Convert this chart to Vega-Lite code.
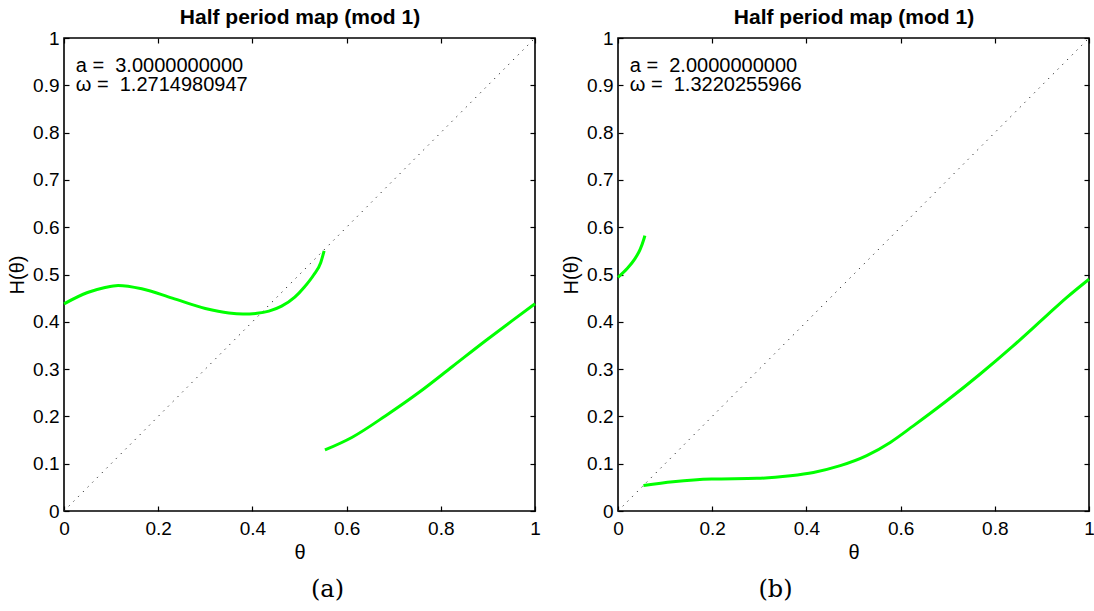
{
  "$schema": "https://vega.github.io/schema/vega-lite/v6.json",
  "background": "white",
  "padding": {"left": 6, "top": 5, "right": 0, "bottom": 0},
  "bounds": "flush",
  "spacing": 83,
  "datasets": {
    "diag": [{"t": 0, "h": 0}, {"t": 1, "h": 1}],
    "a_curves": [
      {"seg": 1, "t": 0.0, "h": 0.438},
      {"seg": 1, "t": 0.05, "h": 0.462},
      {"seg": 1, "t": 0.085, "h": 0.472},
      {"seg": 1, "t": 0.115, "h": 0.477},
      {"seg": 1, "t": 0.165, "h": 0.47},
      {"seg": 1, "t": 0.23, "h": 0.45},
      {"seg": 1, "t": 0.3, "h": 0.428},
      {"seg": 1, "t": 0.35, "h": 0.4185},
      {"seg": 1, "t": 0.38, "h": 0.4165},
      {"seg": 1, "t": 0.41, "h": 0.418},
      {"seg": 1, "t": 0.435, "h": 0.4225},
      {"seg": 1, "t": 0.462, "h": 0.433},
      {"seg": 1, "t": 0.49, "h": 0.452},
      {"seg": 1, "t": 0.51, "h": 0.473},
      {"seg": 1, "t": 0.53, "h": 0.499},
      {"seg": 1, "t": 0.545, "h": 0.525},
      {"seg": 1, "t": 0.5523, "h": 0.55},
      {"seg": 2, "t": 0.554, "h": 0.129},
      {"seg": 2, "t": 0.612, "h": 0.156},
      {"seg": 2, "t": 0.683, "h": 0.2015},
      {"seg": 2, "t": 0.754, "h": 0.251},
      {"seg": 2, "t": 0.824, "h": 0.305},
      {"seg": 2, "t": 0.895, "h": 0.36},
      {"seg": 2, "t": 0.951, "h": 0.402},
      {"seg": 2, "t": 1.0, "h": 0.438}
    ],
    "b_curves": [
      {"seg": 1, "t": 0.0, "h": 0.494},
      {"seg": 1, "t": 0.02, "h": 0.513},
      {"seg": 1, "t": 0.035, "h": 0.532},
      {"seg": 1, "t": 0.047, "h": 0.553},
      {"seg": 1, "t": 0.055, "h": 0.575},
      {"seg": 1, "t": 0.057, "h": 0.582},
      {"seg": 2, "t": 0.054, "h": 0.054},
      {"seg": 2, "t": 0.117, "h": 0.062},
      {"seg": 2, "t": 0.199, "h": 0.0677},
      {"seg": 2, "t": 0.295, "h": 0.069},
      {"seg": 2, "t": 0.366, "h": 0.0746},
      {"seg": 2, "t": 0.415, "h": 0.0816},
      {"seg": 2, "t": 0.472, "h": 0.0958},
      {"seg": 2, "t": 0.528, "h": 0.117},
      {"seg": 2, "t": 0.578, "h": 0.145},
      {"seg": 2, "t": 0.627, "h": 0.18},
      {"seg": 2, "t": 0.698, "h": 0.233},
      {"seg": 2, "t": 0.769, "h": 0.2896},
      {"seg": 2, "t": 0.839, "h": 0.349},
      {"seg": 2, "t": 0.91, "h": 0.413},
      {"seg": 2, "t": 0.953, "h": 0.4516},
      {"seg": 2, "t": 1.0, "h": 0.49}
    ],
    "a_text": [
      {"t": 0.025, "h": 0.929, "label": "a = \u00a03.0000000000"},
      {"t": 0.025, "h": 0.887, "label": "ω = \u00a01.2714980947"}
    ],
    "b_text": [
      {"t": 0.025, "h": 0.929, "label": "a = \u00a02.0000000000"},
      {"t": 0.025, "h": 0.887, "label": "ω = \u00a01.3220255966"}
    ]
  },
  "hconcat": [
    {
      "width": 471,
      "height": 473,
      "title": {"text": "(a)", "orient": "bottom", "font": "DejaVu Serif", "fontSize": 24, "fontWeight": "normal", "color": "black", "offset": 16, "dx": 28},
      "layer": [
        {
          "data": {"name": "diag"},
          "mark": {"type": "line", "color": "#222222", "strokeWidth": 1, "strokeDash": [1.2, 5.5]},
          "encoding": {
            "x": {"field": "t", "type": "quantitative", "scale": {"domain": [0, 1], "nice": false, "zero": false},
                  "axis": {"orient": "bottom", "values": [0, 0.2, 0.4, 0.6, 0.8, 1], "format": "~g", "title": "θ", "titlePadding": 4, "labelPadding": 8}},
            "y": {"field": "h", "type": "quantitative", "scale": {"domain": [0, 1], "nice": false, "zero": false},
                  "axis": {"orient": "left", "values": [0, 0.1, 0.2, 0.3, 0.4, 0.5, 0.6, 0.7, 0.8, 0.9, 1], "format": "~g", "title": "H(θ)", "titlePadding": 5, "labelPadding": 5}}
          }
        },
        {
          "data": {"name": "a_curves"},
          "mark": {"type": "line", "color": "#00ff00", "strokeWidth": 3, "interpolate": "monotone"},
          "encoding": {
            "x": {"field": "t", "type": "quantitative", "axis": null},
            "y": {"field": "h", "type": "quantitative", "axis": null},
            "detail": {"field": "seg"}
          }
        },
        {
          "data": {"name": "a_text"},
          "mark": {"type": "text", "align": "left", "baseline": "alphabetic", "font": "Liberation Sans", "fontSize": 20, "color": "black"},
          "encoding": {
            "x": {"field": "t", "type": "quantitative", "axis": null},
            "y": {"field": "h", "type": "quantitative", "axis": null},
            "text": {"field": "label"}
          }
        },
        {
          "data": {"name": "diag"},
          "mark": {"type": "point", "opacity": 0},
          "encoding": {
            "x": {"field": "t", "type": "quantitative",
                  "axis": {"orient": "top", "values": [0, 0.2, 0.4, 0.6, 0.8, 1], "labels": false, "title": "Half period map (mod 1)", "titleFontWeight": "bold", "titleFontSize": 21, "titlePadding": 10}},
            "y": {"field": "h", "type": "quantitative",
                  "axis": {"orient": "right", "values": [0, 0.1, 0.2, 0.3, 0.4, 0.5, 0.6, 0.7, 0.8, 0.9, 1], "labels": false, "title": null}}
          }
        }
      ],
      "resolve": {"axis": {"x": "independent", "y": "independent"}}
    },
    {
      "width": 471,
      "height": 473,
      "title": {"text": "(b)", "orient": "bottom", "font": "DejaVu Serif", "fontSize": 24, "fontWeight": "normal", "color": "black", "offset": 16, "dx": -78},
      "layer": [
        {
          "data": {"name": "diag"},
          "mark": {"type": "line", "color": "#222222", "strokeWidth": 1, "strokeDash": [1.2, 5.5]},
          "encoding": {
            "x": {"field": "t", "type": "quantitative", "scale": {"domain": [0, 1], "nice": false, "zero": false},
                  "axis": {"orient": "bottom", "values": [0, 0.2, 0.4, 0.6, 0.8, 1], "format": "~g", "title": "θ", "titlePadding": 4, "labelPadding": 8}},
            "y": {"field": "h", "type": "quantitative", "scale": {"domain": [0, 1], "nice": false, "zero": false},
                  "axis": {"orient": "left", "values": [0, 0.1, 0.2, 0.3, 0.4, 0.5, 0.6, 0.7, 0.8, 0.9, 1], "format": "~g", "title": "H(θ)", "titlePadding": 5, "labelPadding": 5}}
          }
        },
        {
          "data": {"name": "b_curves"},
          "mark": {"type": "line", "color": "#00ff00", "strokeWidth": 3, "interpolate": "monotone"},
          "encoding": {
            "x": {"field": "t", "type": "quantitative", "axis": null},
            "y": {"field": "h", "type": "quantitative", "axis": null},
            "detail": {"field": "seg"}
          }
        },
        {
          "data": {"name": "b_text"},
          "mark": {"type": "text", "align": "left", "baseline": "alphabetic", "font": "Liberation Sans", "fontSize": 20, "color": "black"},
          "encoding": {
            "x": {"field": "t", "type": "quantitative", "axis": null},
            "y": {"field": "h", "type": "quantitative", "axis": null},
            "text": {"field": "label"}
          }
        },
        {
          "data": {"name": "diag"},
          "mark": {"type": "point", "opacity": 0},
          "encoding": {
            "x": {"field": "t", "type": "quantitative",
                  "axis": {"orient": "top", "values": [0, 0.2, 0.4, 0.6, 0.8, 1], "labels": false, "title": "Half period map (mod 1)", "titleFontWeight": "bold", "titleFontSize": 21, "titlePadding": 10}},
            "y": {"field": "h", "type": "quantitative",
                  "axis": {"orient": "right", "values": [0, 0.1, 0.2, 0.3, 0.4, 0.5, 0.6, 0.7, 0.8, 0.9, 1], "labels": false, "title": null}}
          }
        }
      ],
      "resolve": {"axis": {"x": "independent", "y": "independent"}}
    }
  ],
  "config": {
    "view": {"stroke": "black", "strokeWidth": 1.6},
    "axis": {
      "grid": false,
      "domain": false,
      "offset": -5,
      "tickColor": "black",
      "tickWidth": 1.2,
      "tickSize": 5,
      "labelColor": "black",
      "labelFont": "Liberation Sans",
      "labelFontSize": 19,
      "labelFlush": false,
      "labelOverlap": false,
      "titleFont": "Liberation Sans",
      "titleFontSize": 20,
      "titleFontWeight": "normal",
      "titleColor": "black"
    }
  }
}
